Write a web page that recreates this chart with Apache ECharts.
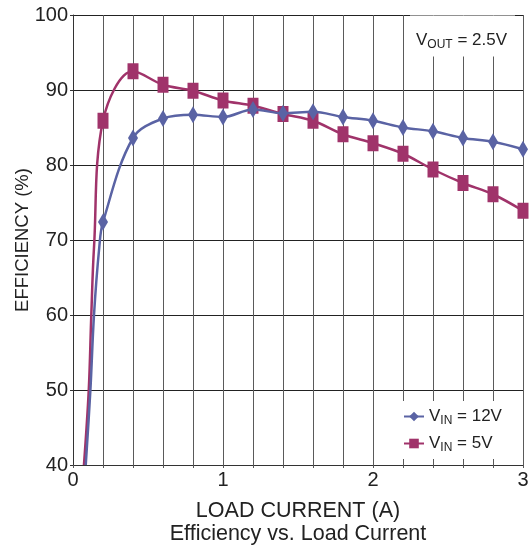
<!DOCTYPE html>
<html>
<head>
<meta charset="utf-8">
<script src="https://cdn.jsdelivr.net/npm/echarts@6/dist/echarts.min.js"></script>
<style>
  html, body { margin: 0; padding: 0; background: #fff; }
  #chart { width: 532px; height: 545px; }
</style>
</head>
<body>
<div id="chart"></div>
<script>
// load current (A) where markers sit
var current = [0.2, 0.4, 0.6, 0.8, 1.0, 1.2, 1.4, 1.6, 1.8, 2.0, 2.2, 2.4, 2.6, 2.8, 3.0];
// efficiency (%)
var eff12V = [72.4, 83.6, 86.2, 86.7, 86.4, 87.4, 86.9, 87.1, 86.4, 85.9, 85.0, 84.5, 83.6, 83.1, 82.1];
var eff5V  = [85.9, 92.5, 90.7, 89.9, 88.6, 87.9, 86.8, 85.9, 84.1, 82.9, 81.5, 79.4, 77.6, 76.1, 73.9];
// the steep low-current part of each curve (no markers)
var riseX12V = [0.085, 0.116, 0.14, 0.175];
var riseY12V = [40, 50, 60, 69];
var riseX5V  = [0.073, 0.105, 0.122, 0.14];
var riseY5V  = [40, 50, 60, 69];

var xTicks = ['0', '1', '2', '3'];
var yTicks = [40, 50, 60, 70, 80, 90, 100];

var blue = '#5a63a4';
var red  = '#a0336a';
var font = 'Liberation Sans, Arial, sans-serif';

function buildData(rx, ry, xs, ys) {
  var out = [];
  for (var j = 0; j < rx.length; j++) out.push({ value: [rx[j], ry[j]], symbol: 'none' });
  for (var i = 0; i < xs.length; i++) out.push([xs[i], ys[i]]);
  return out;
}

var richSub = {
  a: { fontFamily: font, fontSize: 17, fontWeight: 'normal', color: '#222', lineHeight: 20 },
  s: { fontFamily: font, fontSize: 12, fontWeight: 'normal', color: '#222', lineHeight: 20, padding: [9, 0, 0, 0] }
};

var chart = echarts.init(document.getElementById('chart'));

var option = {
  animation: false,
  textStyle: { fontFamily: font },
  title: [
    {
      text: 'Efficiency vs. Load Current',
      left: 298,
      textAlign: 'center',
      top: 523,
      padding: 0,
      textStyle: { fontFamily: font, fontSize: 21.5, fontWeight: 'normal', color: '#222' }
    },
    {
      text: '{a|V}{s|OUT}{a| = 2.5V}',
      left: 410,
      top: 16,
      padding: [14, 8, 6, 6],
      backgroundColor: '#fff',
      textStyle: { fontWeight: 'normal', rich: richSub }
    }
  ],
  grid: { left: 73, right: 9, top: 15, bottom: 80, show: false, outerBoundsMode: 'none', containLabel: false },
  legend: {
    orient: 'vertical',
    left: 397,
    top: 401,
    padding: [5, 10, 5, 6],
    itemGap: 6,
    itemWidth: 20,
    itemHeight: 12,
    backgroundColor: '#fff',
    data: ['VIN = 12V', 'VIN = 5V'],
    formatter: function (name) {
      return '{a|V}{s|IN}{a|' + name.slice(3) + '}';
    },
    textStyle: { rich: richSub }
  },
  xAxis: {
    type: 'value',
    min: 0,
    max: 3,
    interval: 0.2,
    name: 'LOAD CURRENT (A)',
    nameLocation: 'middle',
    nameGap: 35,
    nameMoveOverlap: false,
    nameTextStyle: { fontFamily: font, fontSize: 21.5, color: '#222' },
    axisLine: { show: true, onZero: false, lineStyle: { color: '#333', width: 1 } },
    axisTick: { show: true, length: 3, lineStyle: { color: '#555' } },
    axisLabel: {
      fontFamily: font, fontSize: 20, color: '#222', margin: 5,
      formatter: function (v) {
        var r = Math.round(v);
        return Math.abs(v - r) < 1e-6 ? xTicks[r] : '';
      }
    },
    splitLine: { show: true, lineStyle: { color: '#5a5a5a', width: 1 } }
  },
  yAxis: {
    type: 'value',
    min: 40,
    max: 100,
    interval: 10,
    name: 'EFFICIENCY (%)',
    nameLocation: 'middle',
    nameRotate: 90,
    nameGap: 41,
    nameMoveOverlap: false,
    nameTextStyle: { fontFamily: font, fontSize: 18.5, color: '#222' },
    axisLine: { show: true, lineStyle: { color: '#333', width: 1 } },
    axisTick: { show: true, length: 3, lineStyle: { color: '#333' } },
    axisLabel: {
      fontFamily: font, fontSize: 20, color: '#222', margin: 5,
      formatter: function (v) { return yTicks.indexOf(v) >= 0 ? String(v) : ''; }
    },
    splitLine: { show: true, lineStyle: { color: '#222', width: 1 } }
  },
  series: [
    {
      name: 'VIN = 12V',
      type: 'line',
      smooth: 0.35,
      clip: true,
      symbol: 'diamond',
      symbolSize: [10, 17],
      itemStyle: { color: blue },
      lineStyle: { color: blue, width: 2.5 },
      data: buildData(riseX12V, riseY12V, current, eff12V),
      z: 3
    },
    {
      name: 'VIN = 5V',
      type: 'line',
      smooth: 0.35,
      clip: true,
      symbol: 'rect',
      symbolSize: [11, 16],
      itemStyle: { color: red },
      lineStyle: { color: red, width: 2.5 },
      data: buildData(riseX5V, riseY5V, current, eff5V),
      z: 2
    }
  ]
};

chart.setOption(option);
</script>
</body>
</html>
